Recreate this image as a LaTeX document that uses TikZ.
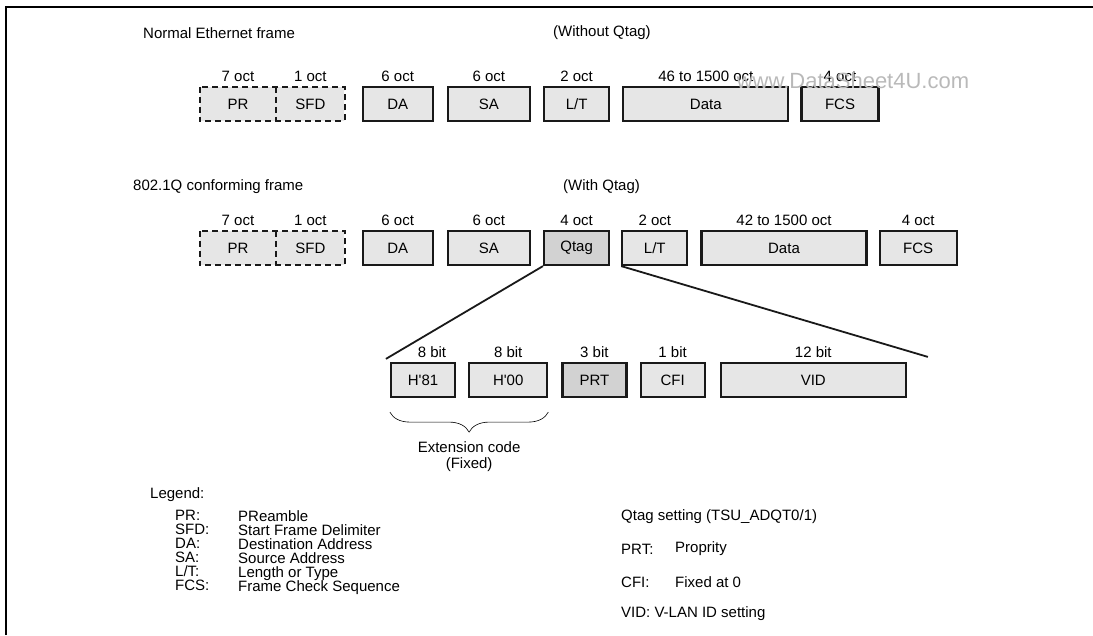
\documentclass[tikz,border=0pt]{standalone}
\usepackage{fontspec}
\setmainfont{Liberation Sans}
\usepackage{tikz}
\usetikzlibrary{positioning,decorations.pathreplacing}

\definecolor{fieldgray}{HTML}{E6E6E6}
\definecolor{taggray}{HTML}{D2D2D2}

\begin{document}
\begin{tikzpicture}[
        x=1pt, y=-1pt,
        font=\fontsize{15}{18}\selectfont,
        box/.style={draw=black!90, line width=2.2pt, fill=fieldgray, minimum height=34pt, inner sep=0pt},
        prebox/.style={fill=fieldgray, minimum height=34pt, inner sep=0pt},
        tagbox/.style={box, fill=taggray},
        predash/.style={line width=2.2pt, black!90, dash pattern=on 6pt off 4pt},
        size/.style={inner sep=0pt},
        head/.style={anchor=west, inner sep=0pt},
        wedge/.style={line width=1.8pt, black!90},
        note/.style={anchor=north west, inner sep=0pt, align=left, font=\fontsize{15}{14}\selectfont}
    ]
        \useasboundingbox (0,0) rectangle (1093,635);
        \draw[line width=2pt] (6,635) -- (6,7) -- (1093,7);

        % normal frame
        \node[head] (head1) at (143,33) {Normal Ethernet frame};
        \node[head] (tag1) at (553,33) {(Without Qtag)};
        \node[prebox, minimum width=76pt] (pr1) at (238,104) {PR};
        \node[prebox, minimum width=68pt, right=0pt of pr1] (sfd1) {SFD};
        \draw[predash] (pr1.north west) rectangle (sfd1.south east);
        \draw[predash] (pr1.north east) -- (pr1.south east);
        \node[box, minimum width=70pt, right=17pt of sfd1] (da1) {DA};
        \node[box, minimum width=82pt, right=13pt of da1] (sa1) {SA};
        \node[box, minimum width=65pt, right=12pt of sa1] (lt1) {L/T};
        \node[box, minimum width=165pt, right=12pt of lt1] (data1) {Data};
        \node[box, minimum width=77pt, right=11pt of data1] (fcs1) {FCS};
        \node[size, above=5pt of pr1] (pr1-n) {7 oct};
        \node[size, above=5pt of sfd1] (sfd1-n) {1 oct};
        \node[size, above=4pt of da1] (da1-n) {6 oct};
        \node[size, above=4pt of sa1] (sa1-n) {6 oct};
        \node[size, above=4pt of lt1] (lt1-n) {2 oct};
        \node[size, above=4pt of data1] (data1-n) {46 to 1500 oct};
        \node[size, above=4pt of fcs1] (fcs1-n) {4 oct};
        \node[text=gray!55, font=\fontsize{22}{22}\selectfont] (mark) at (853,81) {www.DataSheet4U.com};

        % 802.1Q frame
        \node[head] (head2) at (133,187) {802.1Q conforming frame};
        \node[head] (tag2) at (563,187) {(With Qtag)};
        \node[prebox, minimum width=76pt] (pr2) at (238,248) {PR};
        \node[prebox, minimum width=68pt, right=0pt of pr2] (sfd2) {SFD};
        \draw[predash] (pr2.north west) rectangle (sfd2.south east);
        \draw[predash] (pr2.north east) -- (pr2.south east);
        \node[box, minimum width=70pt, right=17pt of sfd2] (da2) {DA};
        \node[box, minimum width=82pt, right=13pt of da2] (sa2) {SA};
        \node[tagbox, minimum width=65pt, right=12pt of sa2] (qtag) {Qtag};
        \node[box, minimum width=65pt, right=11pt of qtag] (lt2) {L/T};
        \node[box, minimum width=165pt, right=12pt of lt2] (data2) {Data};
        \node[box, minimum width=77pt, right=11pt of data2] (fcs2) {FCS};
        \node[size, above=5pt of pr2] (pr2-n) {7 oct};
        \node[size, above=5pt of sfd2] (sfd2-n) {1 oct};
        \node[size, above=4pt of da2] (da2-n) {6 oct};
        \node[size, above=4pt of sa2] (sa2-n) {6 oct};
        \node[size, above=4pt of qtag] (qtag-n) {4 oct};
        \node[size, above=4pt of lt2] (lt2-n) {2 oct};
        \node[size, above=4pt of data2] (data2-n) {42 to 1500 oct};
        \node[size, above=4pt of fcs2] (fcs2-n) {4 oct};

        % Qtag fields
        \node[box, minimum width=64pt] (h81) at (423,380) {H\textquotesingle81};
        \node[box, minimum width=78pt, right=12pt of h81] (h00) {H\textquotesingle00};
        \node[tagbox, minimum width=64pt, right=13pt of h00] (prt) {PRT};
        \node[box, minimum width=64pt, right=12pt of prt] (cfi) {CFI};
        \node[box, minimum width=185pt, right=14pt of cfi] (vid) {VID};
        \node[size, above=4pt of h81, xshift=9pt] (h81-n) {8 bit};
        \node[size, above=4pt of h00] (h00-n) {8 bit};
        \node[size, above=4pt of prt] (prt-n) {3 bit};
        \node[size, above=4pt of cfi] (cfi-n) {1 bit};
        \node[size, above=4pt of vid] (vid-n) {12 bit};
        \coordinate (wedge-l) at ([xshift=-4pt,yshift=3pt]h81.north west);
        \coordinate (wedge-r) at ([xshift=21pt,yshift=5pt]vid.north east);
        \draw[wedge] (qtag.south west) -- (wedge-l);
        \draw[wedge] (lt2.south west) -- (wedge-r);
        \draw[decorate, decoration={brace, mirror, amplitude=20pt}, semithick]
            ([yshift=-14pt]h81.south west) -- ([yshift=-14pt]h00.south east)
            node[midway, below=29pt, inner sep=0pt, align=center, font=\fontsize{15}{16}\selectfont] (ext) {Extension code\\(Fixed)};

        % legends
        \node[head] (legend) at (150,495) {Legend:};
        \node[note] (keys) at (175,510) {PR:\\SFD:\\DA:\\SA:\\L/T:\\FCS:};
        \node[note] (vals) at (238,510) {PReamble\\Start Frame Delimiter\\Destination Address\\Source Address\\Length or Type\\Frame Check Sequence};
        \node[head] (qset) at (621,517) {Qtag setting (TSU\_ADQT0/1)};
        \node[head] (prt-k) at (621,549) {PRT:};
        \node[head] (prt-v) at (675,549) {Proprity};
        \node[head] (cfi-k) at (621,582) {CFI:};
        \node[head] (cfi-v) at (675,582) {Fixed at 0};
        \node[head] (vid-k) at (621,614) {VID: V-LAN ID setting};
    \end{tikzpicture}
\end{document}
